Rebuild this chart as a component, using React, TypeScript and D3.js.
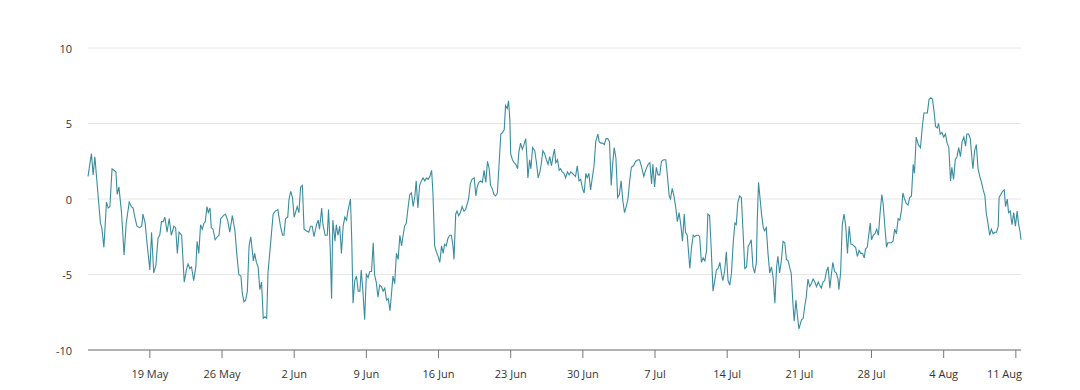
import * as d3 from "d3";

const WIDTH = 1080;
const HEIGHT = 390;
const MARGIN = { top: 48, right: 59, bottom: 40, left: 88 };

// hours since 13 May 2024 00:00
const hours = [
  0, 8, 12, 16, 23, 29, 32, 37, 43, 47, 51, 56, 65, 68, 72, 78, 84, 89, 96, 101,
  105, 109, 114, 120, 125, 128, 133, 138, 144, 148, 153, 158, 163, 167, 171, 175,
  179, 184, 189, 194, 200, 204, 208, 212, 218, 224, 229, 233, 237, 241, 246, 251,
  254, 258, 262, 266, 270, 273, 277, 280, 284, 287, 291, 296, 301, 305, 309, 315,
  320, 325, 330, 336, 342, 346, 351, 356, 359, 363, 367, 371, 375, 379, 385, 388,
  392, 396, 400, 404, 408, 412, 416, 419, 423, 431, 436, 442, 448, 453, 456, 460,
  465, 468, 472, 476, 480, 484, 487, 491, 495, 499, 503, 508, 514, 518, 522, 526,
  532, 536, 539, 544, 547, 552, 557, 560, 564, 567, 570, 575, 578, 582, 586, 590,
  594, 598, 602, 605, 611, 614, 617, 621, 625, 629, 633, 636, 640, 644, 648, 652,
  656, 660, 664, 667, 671, 675, 679, 683, 687, 691, 695, 699, 703, 707, 710, 714,
  718, 722, 726, 730, 733, 737, 741, 745, 749, 753, 757, 761, 764, 768, 772, 776,
  780, 784, 788, 792, 796, 800, 803, 807, 811, 815, 819, 823, 827, 830, 834, 838,
  842, 846, 850, 852, 856, 859, 863, 867, 871, 875, 879, 882, 886, 890, 894, 899,
  903, 906, 910, 914, 918, 922, 926, 930, 934, 937, 941, 945, 949, 953, 957, 961,
  965, 969, 972, 976, 979, 982, 984, 988, 992, 996, 1000, 1003, 1007, 1011, 1015,
  1019, 1022, 1024, 1028, 1031, 1035, 1040, 1044, 1048, 1052, 1055, 1059, 1063,
  1067, 1071, 1075, 1079, 1083, 1086, 1089, 1093, 1097, 1100, 1104, 1108, 1112,
  1116, 1120, 1124, 1128, 1131, 1135, 1139, 1143, 1147, 1151, 1155, 1159, 1162,
  1166, 1170, 1174, 1178, 1182, 1187, 1190, 1194, 1198, 1202, 1206, 1210, 1214,
  1218, 1221, 1225, 1229, 1233, 1237, 1241, 1245, 1249, 1253, 1257, 1261, 1265,
  1270, 1275, 1281, 1284, 1288, 1294, 1298, 1304, 1308, 1312, 1315, 1319, 1323,
  1327, 1331, 1335, 1340, 1345, 1348, 1353, 1356, 1360, 1364, 1368, 1372, 1376,
  1380, 1384, 1388, 1391, 1395, 1401, 1405, 1409, 1412, 1416, 1421, 1424, 1428,
  1432, 1436, 1440, 1443, 1447, 1451, 1455, 1459, 1463, 1467, 1471, 1475, 1478,
  1482, 1486, 1490, 1494, 1498, 1502, 1506, 1509, 1513, 1517, 1521, 1525, 1529,
  1533, 1537, 1540, 1544, 1548, 1552, 1556, 1558, 1561, 1564, 1568, 1572, 1575,
  1579, 1583, 1587, 1591, 1595, 1599, 1603, 1606, 1610, 1614, 1618, 1622, 1626,
  1630, 1634, 1637, 1641, 1644, 1648, 1651, 1655, 1661, 1665, 1668, 1672, 1676,
  1680, 1684, 1688, 1692, 1696, 1700, 1703, 1707, 1711, 1715, 1719, 1723, 1727,
  1731, 1734, 1738, 1742, 1746, 1748, 1752, 1756, 1760, 1764, 1768, 1772, 1776,
  1779, 1783, 1787, 1791, 1795, 1799, 1803, 1807, 1810, 1814, 1817, 1821, 1824,
  1828, 1832, 1836, 1840, 1844, 1848, 1851, 1855, 1859, 1862, 1866, 1870, 1874,
  1878, 1882, 1886, 1890, 1894, 1897, 1901, 1905, 1909, 1913, 1917, 1921, 1924,
  1928, 1933, 1938, 1942, 1946, 1950, 1954, 1958, 1962, 1966, 1970, 1973, 1977,
  1980, 1984, 1988, 1992, 1996, 2000, 2004, 2008, 2011, 2015, 2019, 2023, 2027,
  2031, 2035, 2039, 2043, 2046, 2050, 2054, 2058, 2060, 2064, 2068, 2072, 2076,
  2080, 2084, 2088, 2091, 2095, 2099, 2103, 2107, 2111, 2115, 2119, 2121, 2125,
  2129, 2133, 2136, 2140, 2143, 2147, 2151, 2155, 2159, 2163, 2166, 2170, 2172,
];

const values = [
  1.5, 3.0, 1.6, 2.8, 0.4, -1.6, -1.9, -3.2, -0.2, -0.6, -0.5, 2.0, 1.8, 0.3, 0.8, -0.9, -3.7, -1.6, -0.2, -0.5,
  -0.6, -1.2, -1.8, -1.9, -1.8, -1.0, -1.6, -3.1, -4.7, -2.2, -4.9, -4.4, -2.6, -2.4, -1.5, -1.5,
  -1.2, -2.2, -1.3, -2.4, -1.8, -1.9, -3.6, -2.2, -2.4, -5.5, -4.7, -4.3, -4.6, -4.5, -5.4, -4.5,
  -2.8, -3.6, -1.7, -2.0, -1.6, -1.5, -0.5, -0.9, -0.6, -1.9, -2.0, -2.7, -2.5, -2.4, -1.3, -1.1,
  -1.0, -1.4, -2.2, -1.1, -2.1, -3.5, -5.0, -5.1, -6.2, -6.8, -6.7, -6.1, -3.1, -2.5, -4.1, -3.6,
  -4.2, -4.5, -6.0, -5.5, -7.9, -7.8, -7.9, -4.9, -3.6, -1.0, -0.8, -0.7, -1.8, -2.4, -2.4, -1.3,
  -1.2, 0.0, 0.5, 0.1, -1.2, -0.8, -0.5, -0.9, 0.8, 0.9, -2.0, -2.1, -2.2, -1.8, -1.8, -2.5,
  -1.7, -1.4, -2.0, -0.6, -1.7, -2.4, -2.4, -0.7, -3.4, -6.6, -1.4, -2.8, -1.7, -2.4, -1.8, -3.6,
  -1.8, -1.2, -1.4, -0.8, 0.0, -2.7, -6.9, -5.4, -5.1, -6.1, -6.1, -4.7, -6.1, -8.0, -5.0, -5.2,
  -4.8, -4.8, -2.9, -5.0, -5.5, -6.5, -5.7, -5.8, -6.1, -5.9, -6.7, -6.6, -7.4, -6.1, -5.1, -5.6,
  -3.6, -4.0, -2.4, -3.1, -2.5, -1.8, -1.6, -0.6, 0.3, 0.4, -0.5, 0.2, 1.2, -0.6, 0.9, 1.2,
  1.4, 1.2, 1.4, 1.3, 1.5, 1.9, 0.4, -3.1, -3.5, -3.8, -4.2, -3.1, -3.6, -3.0, -3.1, -2.6,
  -2.4, -2.4, -3.2, -4.0, -1.0, -0.8, -1.1, -0.9, -0.5, -0.8, -0.7, -0.4, 0.0, 1.0, 1.3, 1.4,
  0.2, 0.8, 1.1, 1.2, 1.1, 1.9, 1.1, 2.5, 2.0, 0.9, 0.7, 0.3, 0.2, 0.4, 2.3, 4.3,
  4.4, 4.6, 6.2, 6.0, 6.5, 5.3, 3.0, 2.6, 2.4, 2.3, 2.0, 3.1, 3.7, 3.3, 3.6,
  4.0, 2.7, 1.4, 2.6, 2.0, 3.4, 3.2, 2.4, 1.4, 1.8, 2.3, 3.2, 3.0,
  2.6, 2.3, 2.8, 2.2, 2.9, 3.3, 2.4, 2.6, 1.9, 2.0, 1.8, 1.7, 1.4,
  1.8, 1.6, 1.8, 1.7, 1.6, 1.5, 2.2, 1.2, 1.3, 0.7, 0.4, 1.7, 1.4,
  1.7, 0.6, 1.4, 2.2, 3.8, 4.3, 3.8, 3.7, 3.7, 3.6, 4.0, 4.0, 3.8,
  0.9, 2.2, 3.4, 2.7, 0.1, 0.3, 1.2, -0.1, -0.9, -0.5, 0.0, 1.2, 2.1,
  2.2, 2.5, 2.6, 2.6, 2.2, 1.5, 1.9, 2.3, 2.4, 1.0, 2.3, 0.8, 2.1,
  1.6, 1.6, 2.5, 2.6, 2.6, 1.8, 0.2, 0.0, 0.7, 0.2, -0.5, -1.5, -0.9,
  -1.7, -2.8, -1.0, -2.2, -2.4, -4.6, -3.2, -2.4, -2.5, -2.4, -2.4, -2.5, -4.2,
  -3.9, -4.1, -3.4, -1.0, -1.1, -3.4, -6.1, -5.4, -4.7, -4.6, -4.2, -5.0, -5.4,
  -4.8, -3.5, -5.4, -5.7, -4.9, -2.9, -1.6, -1.7, -0.2, 0.2, 0.1, -2.2, -4.6,
  -4.5, -3.1, -3.0, -2.7, -4.5, -4.9, -4.2, -1.4, 1.1, 0.2, -1.0, -1.9, -2.1,
  -1.9, -3.6, -4.9, -4.5, -5.2, -6.9, -4.5, -3.8, -4.9, -4.1, -2.8, -2.9, -4.0,
  -4.1, -4.6, -4.9, -6.9, -8.1, -6.7, -7.6, -8.6, -8.0, -7.9, -7.2, -6.5, -5.3,
  -5.8, -5.6, -5.3, -5.5, -5.8, -5.5, -5.7, -5.9, -5.5, -5.4, -4.8, -4.5, -5.9,
  -4.9, -4.2, -4.8, -4.9, -5.3, -6.0, -4.9, -1.7, -1.0, -1.8, -3.6, -1.8, -3.0,
  -3.0, -3.1, -3.2, -3.8, -3.4, -3.6, -3.6, -3.9, -3.3, -3.2, -2.5, -1.6, -2.7,
  -2.4, -2.3, -2.0, -2.4, -0.9, 0.3, -0.3, -1.8, -3.2, -2.9, -2.9, -2.9, -2.8,
  -2.0, -2.3, -1.3, -1.4, -0.7, 0.4, 0.0, -0.3, -0.4, 0.1, 0.2, 2.3, 1.7,
  4.1, 3.6, 3.4, 4.7, 5.7, 5.7, 5.7, 6.6, 6.7, 6.6, 5.7, 4.8, 4.7,
  5.0, 4.3, 4.4, 4.1, 4.3, 3.7, 3.4, 1.2, 2.1, 1.3, 2.6, 2.8, 3.4,
  2.8, 3.8, 4.1, 3.5, 4.3, 4.3, 4.0, 2.6, 2.0, 3.2, 3.6, 2.0, 1.5,
  1.1, 0.6, 0.2, -0.9, -1.6, -2.4, -2.0, -2.3, -2.2, -2.2, -1.8, 0.1, 0.3,
  0.5, 0.6, -0.5, 0.0, -0.9, -0.8, -1.7, -0.9, -1.8, -0.8, -1.6, -2.2, -2.7,
];

const yTicks = [-10, -5, 0, 5, 10];

const START = new Date(2024, 4, 13);

export default function App() {
  const boundsWidth = WIDTH - MARGIN.left - MARGIN.right;
  const boundsHeight = HEIGHT - MARGIN.top - MARGIN.bottom;

  const data = hours.map((h, i) => ({
    date: d3.timeHour.offset(START, h),
    value: values[i],
  }));

  const xScale = d3
    .scaleTime()
    .domain(d3.extent(data, (d) => d.date) as [Date, Date])
    .range([0, boundsWidth]);

  const yScale = d3.scaleLinear().domain([-10, 10]).range([boundsHeight, 0]);

  const line = d3
    .line<{ date: Date; value: number }>()
    .x((d) => xScale(d.date))
    .y((d) => yScale(d.value));

  const xTicks = xScale.ticks(d3.timeWeek.every(1)!);
  const fmt = d3.timeFormat("%-d %b");

  return (
    <svg
      width={WIDTH}
      height={HEIGHT}
      style={{ position: "absolute", left: 0, top: 0, background: "#fff" }}
      fontFamily="'Open Sans', sans-serif"
    >
      <g transform={`translate(${MARGIN.left}, ${MARGIN.top})`}>
        {yTicks.map((t) => (
          <g key={t}>
            {t !== -10 && (
              <line
                x1={0}
                x2={boundsWidth}
                y1={yScale(t)}
                y2={yScale(t)}
                stroke="#e6e6e6"
                strokeWidth={1}
              />
            )}
            <text
              x={-16}
              y={yScale(t)}
              textAnchor="end"
              dominantBaseline="central"
              fontSize={11}
              fill="#333"
            >
              {t}
            </text>
          </g>
        ))}

        <path d={line(data) ?? ""} fill="none" stroke="#3a8d9e" strokeWidth={1.1} />

        <line
          x1={0}
          x2={boundsWidth}
          y1={boundsHeight}
          y2={boundsHeight}
          stroke="#999"
          strokeWidth={1.5}
        />
        {xTicks.map((t, i) => {
          const x = xScale(t);
          // keep the last label inside the plot, as the original does
          const last = i === xTicks.length - 1 && x + 22 > boundsWidth;
          return (
            <g key={i} transform={`translate(${x}, ${boundsHeight})`}>
              <line y1={0} y2={8} stroke="#777" strokeWidth={1} />
              <text
                x={last ? boundsWidth - x + 1 : 0}
                y={23}
                textAnchor={last ? "end" : "middle"}
                dominantBaseline="central"
                fontSize={11}
                fill="#333"
              >
                {fmt(t)}
              </text>
            </g>
          );
        })}
      </g>
    </svg>
  );
}
